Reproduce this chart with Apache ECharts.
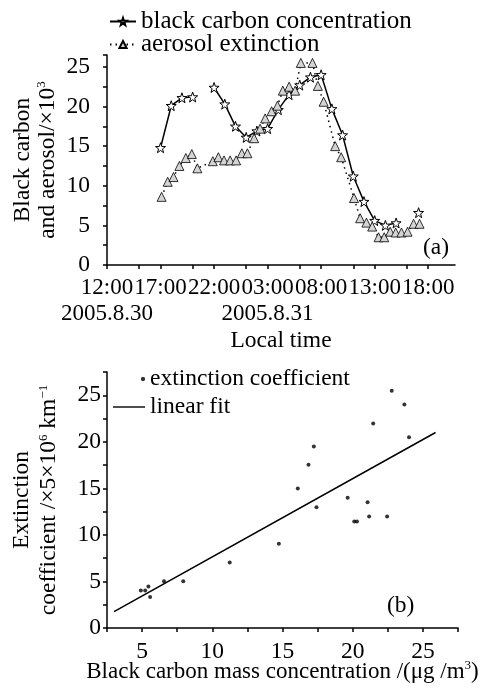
<!DOCTYPE html>
<html>
<head>
<meta charset="utf-8">
<script src="https://cdn.jsdelivr.net/npm/echarts@6/dist/echarts.min.js"></script>
<style>
html,body{margin:0;padding:0;background:#fff;}
#c{width:481px;height:690px;}
</style>
</head>
<body>
<div id="c"></div>
<script>
// ---- Panel (a): time series (hours after 12:00 on 2005.8.30) ----
const bcHours   = [5, 6, 7, 8, 9, 10, 11, 12, 13, 14, 15, 16, 17, 18, 19, 20, 21, 22, 23, 24, 25, 26, 27, 28, 29.1];
const bcValues  = [14.8, 20.1, 21.1, 21.2, null, 22.4, 20.3, 17.5, 16.1, 16.9, 17.2, 19.6, 21.5, 22.7, 23.7, 24.0, 19.7, 16.4, 11.2, 8.0, 5.6, 5.0, 5.3, null, 6.6];
const extHours  = [5.1, 5.67, 6.21, 6.76, 7.36, 7.92, 8.44, 9.88, 10.4, 10.93, 11.5, 12.06, 12.59, 13.11, 13.74, 14.3, 14.77, 15.37, 15.92, 16.42, 17.01, 17.57, 18.1, 19.19, 19.69, 20.23, 21.31, 21.87, 23.07, 23.64, 24.23, 24.77, 25.36, 25.89, 26.45, 26.96, 27.5, 28.07, 28.63, 29.19];
const extValues = [8.6, 10.5, 11.1, 12.5, 13.5, 14.0, 12.2, 13.1, 13.6, 13.2, 13.2, 13.2, 14.1, 14.1, 16.0, 17.2, 18.5, 19.4, 20.1, 22.0, 22.5, 22.0, 25.5, 25.5, 22.6, 20.6, 15.0, 13.6, 8.45, 5.9, 5.35, 4.85, 3.5, 3.5, 4.2, 4.1, 4.1, 4.2, 5.2, 5.2];
const timeTickHours  = [0, 3, 5, 8, 10, 13, 15, 18, 20, 23, 25, 28, 30];
const timeLabelHours = [0, 5, 10, 15, 20, 25, 30];
const timeLabels     = ['12:00', '17:00', '22:00', '03:00', '08:00', '13:00', '18:00'];
const dateLabelHours = [0, 15];
const dateLabels     = ['2005.8.30', '2005.8.31'];

// ---- Panel (b): scatter ----
const scatterBC  = [4.91, 5.22, 5.45, 5.57, 6.56, 7.93, 11.24, 14.74, 16.09, 16.85, 17.23, 17.42, 19.64, 20.11, 20.30, 21.06, 21.17, 21.46, 22.45, 22.78, 23.68, 24.01];
const scatterExt = [4.03, 4.03, 4.45, 3.32, 5.02, 5.02, 7.03, 9.05, 14.98, 17.53, 19.5, 12.97, 14.0, 11.45, 11.45, 13.5, 11.98, 21.98, 11.98, 25.48, 24.0, 20.5];
const fitBC  = [3.0, 25.9];
const fitExt = [1.75, 21.0];

const FONT = "'Liberation Serif','Times New Roman',serif";
const FS = 23.5;
const STAR = 'path://M0,-10L2.35,-3.24L9.51,-3.09L3.8,1.24L5.88,8.09L0,4L-5.88,8.09L-3.8,1.24L-9.51,-3.09L-2.35,-3.24Z';
const DOT_ICON  = 'path://M0,2L0.1,2L0,2.1Z M28,1L29,0L31,0L32,1L32,3L31,4L29,4L28,3Z';
const LINE_ICON = 'path://M0,1.3L32,1.3L32,2.7L0,2.7Z';

const zip = (a, b) => a.map((x, i) => [x, b[i]]);

const axisCommon = {
  axisLine: {show: true, onZero: false, lineStyle: {color: '#000', width: 1.5}},
  axisTick: {show: true, inside: false, length: 4, lineStyle: {color: '#000', width: 1.5}},
  splitLine: {show: false},
  nameMoveOverlap: false
};
const only5 = v => (Math.abs(v / 5 - Math.round(v / 5)) < 1e-6 ? String(Math.round(v)) : '');
const supRich = {s: {fontFamily: FONT, fontSize: 13, verticalAlign: 'bottom', padding: [0, 0, 12, 0]}};

const chart = echarts.init(document.getElementById('c'), null, {renderer: 'canvas'});
chart.setOption({
  backgroundColor: '#fff',
  animation: false,
  textStyle: {fontFamily: FONT, color: '#000'},
  grid: [
    {left: 107, right: 26, top: 55, bottom: 425, outerBoundsMode: 'none', containLabel: false},
    {left: 107, right: 23, top: 372, bottom: 62, outerBoundsMode: 'none', containLabel: false}
  ],
  legend: [
    {
      orient: 'vertical', left: 104, top: 4, itemGap: -2,
      itemWidth: 26, itemHeight: 9,
      data: ['black carbon concentration', 'aerosol extinction'],
      textStyle: {fontFamily: FONT, fontSize: 25, color: '#000'}
    },
    {
      orient: 'vertical', left: 108, top: 362, itemGap: 4,
      itemWidth: 32, itemHeight: 4, symbolKeepAspect: true,
      data: [
        {name: 'extinction coefficient', icon: DOT_ICON},
        {name: 'linear fit', icon: LINE_ICON}
      ],
      textStyle: {fontFamily: FONT, fontSize: FS, color: '#000'}
    }
  ],
  xAxis: [
    Object.assign({}, axisCommon, {
      gridIndex: 0, type: 'value', position: 'bottom', offset: 0, min: 0, max: 32.5,
      axisTick: Object.assign({}, axisCommon.axisTick, {customValues: timeTickHours}),
      axisLabel: {
        color: '#000', fontFamily: FONT, fontSize: 23, margin: 11,
        showMinLabel: true, showMaxLabel: true, hideOverlap: false,
        customValues: timeLabelHours,
        formatter: v => timeLabels[timeLabelHours.indexOf(Math.round(v))]
      },
      name: 'Local time', nameLocation: 'middle', nameGap: 64,
      nameTextStyle: {fontFamily: FONT, fontSize: FS, color: '#000'}
    }),
    {
      gridIndex: 0, type: 'value', position: 'bottom', offset: 0, min: 0, max: 32.5,
      axisLine: {show: false}, axisTick: {show: false}, splitLine: {show: false},
      axisLabel: {
        color: '#000', fontFamily: FONT, fontSize: 23, margin: 37,
        showMinLabel: true, showMaxLabel: true, hideOverlap: false,
        customValues: dateLabelHours,
        formatter: v => dateLabels[dateLabelHours.indexOf(Math.round(v))]
      }
    },
    Object.assign({}, axisCommon, {
      gridIndex: 1, type: 'value', min: 2.5, max: 27.5, interval: 2.5,
      axisLabel: {color: '#000', fontFamily: FONT, fontSize: FS, margin: 12, formatter: only5,
        showMinLabel: true, showMaxLabel: true},
      name: 'Black carbon mass concentration /(μg /m{s|3})', nameLocation: 'middle', nameGap: 31,
      nameTextStyle: {fontFamily: FONT, fontSize: 23, color: '#000', rich: supRich}
    })
  ],
  yAxis: [
    Object.assign({}, axisCommon, {
      gridIndex: 0, type: 'value', min: 0, max: 26.5, interval: 2.5,
      axisLabel: {color: '#000', fontFamily: FONT, fontSize: FS, margin: 17, formatter: only5,
        showMinLabel: true, showMaxLabel: true},
      name: 'Black carbon\nand aerosol/×10{s|3}', nameLocation: 'middle', nameGap: 47, nameRotate: 90,
      nameTextStyle: {fontFamily: FONT, fontSize: FS, color: '#000', lineHeight: 25, rich: supRich}
    }),
    Object.assign({}, axisCommon, {
      gridIndex: 1, type: 'value', min: 0, max: 27.5, interval: 2.5,
      axisLabel: {color: '#000', fontFamily: FONT, fontSize: FS, margin: 6, formatter: only5,
        showMinLabel: true, showMaxLabel: true},
      name: 'Extinction\ncoefficient /×5×10{s|6} km{s|−1}', nameLocation: 'middle', nameGap: 45, nameRotate: 90,
      nameTextStyle: {fontFamily: FONT, fontSize: FS, color: '#000', lineHeight: 27, rich: supRich}
    })
  ],
  series: [
    {
      name: 'black carbon concentration', type: 'line', xAxisIndex: 0, yAxisIndex: 0,
      data: zip(bcHours, bcValues), connectNulls: false,
      symbol: STAR, symbolSize: 10,
      lineStyle: {color: '#000', width: 1.5},
      itemStyle: {color: '#fff', borderColor: '#000', borderWidth: 1}
    },
    {
      name: 'aerosol extinction', type: 'line', xAxisIndex: 0, yAxisIndex: 0,
      data: zip(extHours, extValues),
      symbol: 'triangle', symbolSize: 9,
      lineStyle: {color: '#000', width: 1.5, type: [1.5, 4]},
      itemStyle: {color: '#d4d4d4', borderColor: '#000', borderWidth: 0.8}
    },
    {
      name: 'extinction coefficient', type: 'scatter', xAxisIndex: 2, yAxisIndex: 1,
      data: zip(scatterBC, scatterExt), symbol: 'circle', symbolSize: 4,
      itemStyle: {color: '#000'}
    },
    {
      name: 'linear fit', type: 'line', xAxisIndex: 2, yAxisIndex: 1,
      data: zip(fitBC, fitExt), symbol: 'none', showSymbol: false,
      lineStyle: {color: '#000', width: 1.5},
      itemStyle: {color: '#000'}
    }
  ],
  graphic: [
    {type: 'text', left: 423, top: 236, style: {text: '(a)', font: FS + 'px ' + FONT, fill: '#000'}},
    {type: 'text', left: 387, top: 594, style: {text: '(b)', font: FS + 'px ' + FONT, fill: '#000'}}
  ]
});
</script>
</body>
</html>
